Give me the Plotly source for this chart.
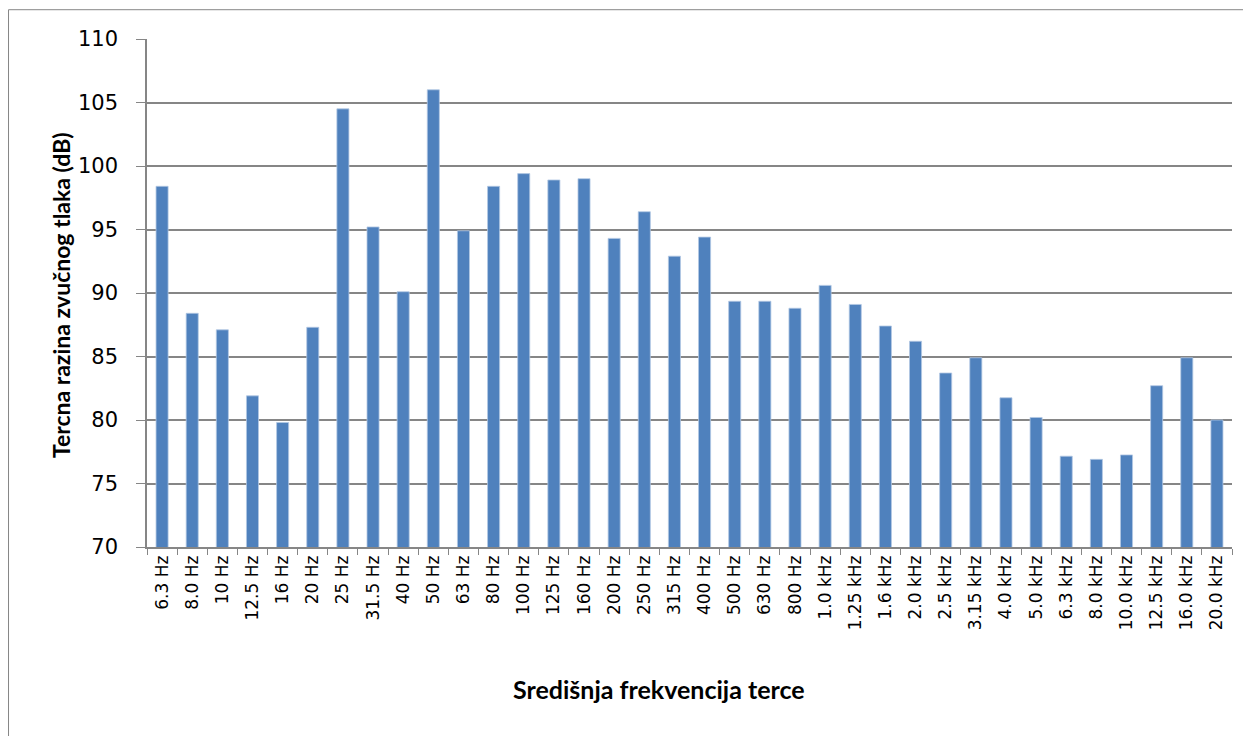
import plotly.graph_objects as go

categories = ["6.3 Hz", "8.0 Hz", "10 Hz", "12.5 Hz", "16 Hz", "20 Hz", "25 Hz", "31.5 Hz",
              "40 Hz", "50 Hz", "63 Hz", "80 Hz", "100 Hz", "125 Hz", "160 Hz", "200 Hz",
              "250 Hz", "315 Hz", "400 Hz", "500 Hz", "630 Hz", "800 Hz", "1.0 kHz", "1.25 kHz",
              "1.6 kHz", "2.0 kHz", "2.5 kHz", "3.15 kHz", "4.0 kHz", "5.0 kHz", "6.3 kHz",
              "8.0 kHz", "10.0 kHz", "12.5 kHz", "16.0 kHz", "20.0 kHz"]
levels_db = [98.4, 88.4, 87.1, 81.9, 79.8, 87.3, 104.5, 95.2,
             90.1, 106.0, 94.9, 98.4, 99.4, 98.9, 99.0, 94.3,
             96.4, 92.9, 94.4, 89.35, 89.35, 88.8, 90.6, 89.1,
             87.4, 86.2, 83.7, 84.9, 81.75, 80.2, 77.15,
             76.9, 77.25, 82.7, 84.9, 80.0]
y_ticks = [70, 75, 80, 85, 90, 95, 100, 105, 110]

# page body has an 8px margin; figure sized so it fits the 1251x736 window
OFF = 8
W, H = 1251 - OFF, 736 - OFF
L, R, T, B = 146.5 - OFF, 19.3, 39.3 - OFF, 188.5
pw, ph = W - L - R, H - T - B

def px_x(x):  # screen x -> paper
    return (x - OFF - L) / pw

def px_y(y):  # screen y -> paper
    return (H - B - (y - OFF)) / ph

fig = go.Figure()
fig.add_trace(go.Bar(
    x=categories, y=levels_db,
    marker=dict(color="#4F81BD", line=dict(color="#B3C8E3", width=0.8)),
    width=0.4,
))

grid = "#868686"
fig.update_layout(
    width=W, height=H,
    margin=dict(l=L, r=R, t=T, b=B, autoexpand=False),
    paper_bgcolor="white", plot_bgcolor="white",
    showlegend=False,
    font=dict(family="DejaVu Sans", color="black"),
    xaxis=dict(
        type="category", range=[-0.5, len(categories) - 0.5],
        tickangle=-90, tickfont=dict(size=17, family="DejaVu Sans"),
        showline=True, linecolor=grid, linewidth=1.5,
        ticks="outside", tickson="boundaries", ticklen=6, tickcolor=grid, tickwidth=1,
        showgrid=False, zeroline=False,
    ),
    yaxis=dict(
        range=[70, 110], tickvals=y_ticks, ticktext=[str(v) for v in y_ticks],
        tickfont=dict(size=21, family="DejaVu Sans"),
        showline=True, linecolor=grid, linewidth=1.5,
        ticks="outside", ticklen=9, tickcolor=grid, tickwidth=1,
        showgrid=True, gridcolor=grid, gridwidth=1.5, zeroline=False,
        ticklabelstandoff=14,
    ),
)

fig.add_annotation(
    text="<b>Tercna razina zvučnog tlaka (dB)</b>", textangle=-90,
    xref="paper", yref="paper", x=px_x(60), y=px_y(296),
    xanchor="center", yanchor="middle", showarrow=False,
    font=dict(family="Lato", size=23, color="black"),
)
fig.add_annotation(
    text="<b>Središnja frekvencija terce</b>",
    xref="paper", yref="paper", x=px_x(659), y=px_y(690),
    xanchor="center", yanchor="middle", showarrow=False,
    font=dict(family="Lato", size=25, color="black"),
)
fig.add_shape(
    type="rect", xref="paper", yref="paper",
    x0=px_x(8), x1=px_x(1262), y0=px_y(750), y1=px_y(10),
    line=dict(color=grid, width=1), fillcolor="rgba(0,0,0,0)", layer="below",
)

fig.write_html("out.html")
